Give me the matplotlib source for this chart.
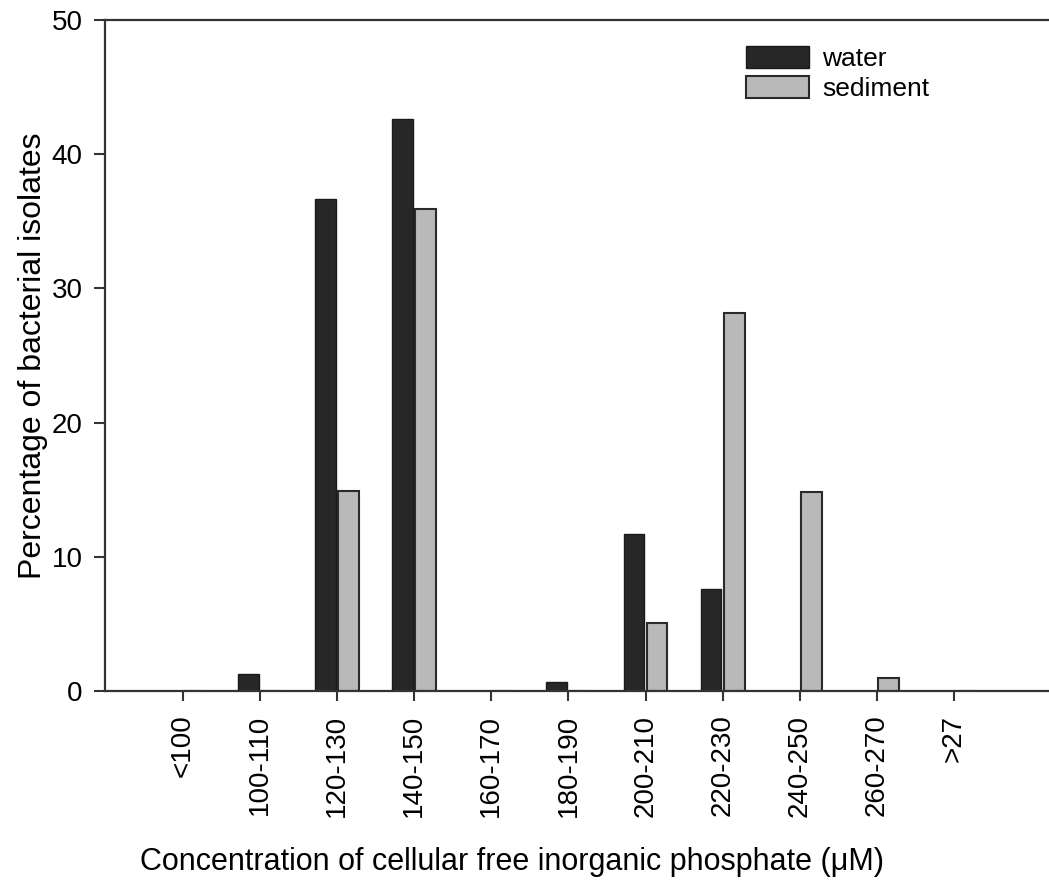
import matplotlib
matplotlib.use("Agg")
import matplotlib.pyplot as plt
import numpy as np

categories = ["<100", "100-110", "120-130", "140-150", "160-170", "180-190",
              "200-210", "220-230", "240-250", "260-270", ">27"]
water = [0, 1.3, 36.7, 42.6, 0, 0.7, 11.7, 7.6, 0, 0, 0]
sediment = [0, 0, 14.9, 35.9, 0, 0, 5.1, 28.2, 14.8, 1.0, 0]

plt.rcParams["font.family"] = ["Liberation Sans", "DejaVu Sans"]

fig = plt.figure(figsize=(10.49, 8.9), dpi=100)
ax = fig.add_axes([0.100, 0.2236, 0.905, 0.7539])

x = np.arange(len(categories))
w = 0.27
ax.bar(x - 0.15, water, width=w, color="#272727", edgecolor="#1a1a1a",
       linewidth=1.0, label="water")
ax.bar(x + 0.15, sediment, width=w, color="#b9b9b9", edgecolor="#2a2a2a",
       linewidth=1.5, label="sediment")

ax.set_xlim(-1.01, 11.3)
ax.set_ylim(0, 50)
ax.set_yticks([0, 10, 20, 30, 40, 50])
ax.set_xticks(x)
ax.set_xticklabels(categories, rotation=90, va="top")
ax.tick_params(axis="x", length=7, width=1.5, pad=10, labelsize=20, color="#333333")
ax.tick_params(axis="y", length=8, width=1.5, pad=8, labelsize=20, color="#333333")

for side in ["left", "bottom", "top"]:
    ax.spines[side].set_linewidth(1.6)
    ax.spines[side].set_color("#333333")
ax.spines["right"].set_visible(False)

ax.set_ylabel("Percentage of bacterial isolates", fontsize=23, labelpad=3)
ax.set_xlabel("Concentration of cellular free inorganic phosphate (\u03bcM)",
              fontsize=22)
ax.xaxis.set_label_coords(0.429, -0.232)

ax.legend(loc="upper left", bbox_to_anchor=(0.65, 0.997), frameon=False,
          fontsize=19, handlelength=2.4, handleheight=0.9, handletextpad=0.5,
          labelspacing=0.2)

fig.savefig("out.png", dpi=100)
